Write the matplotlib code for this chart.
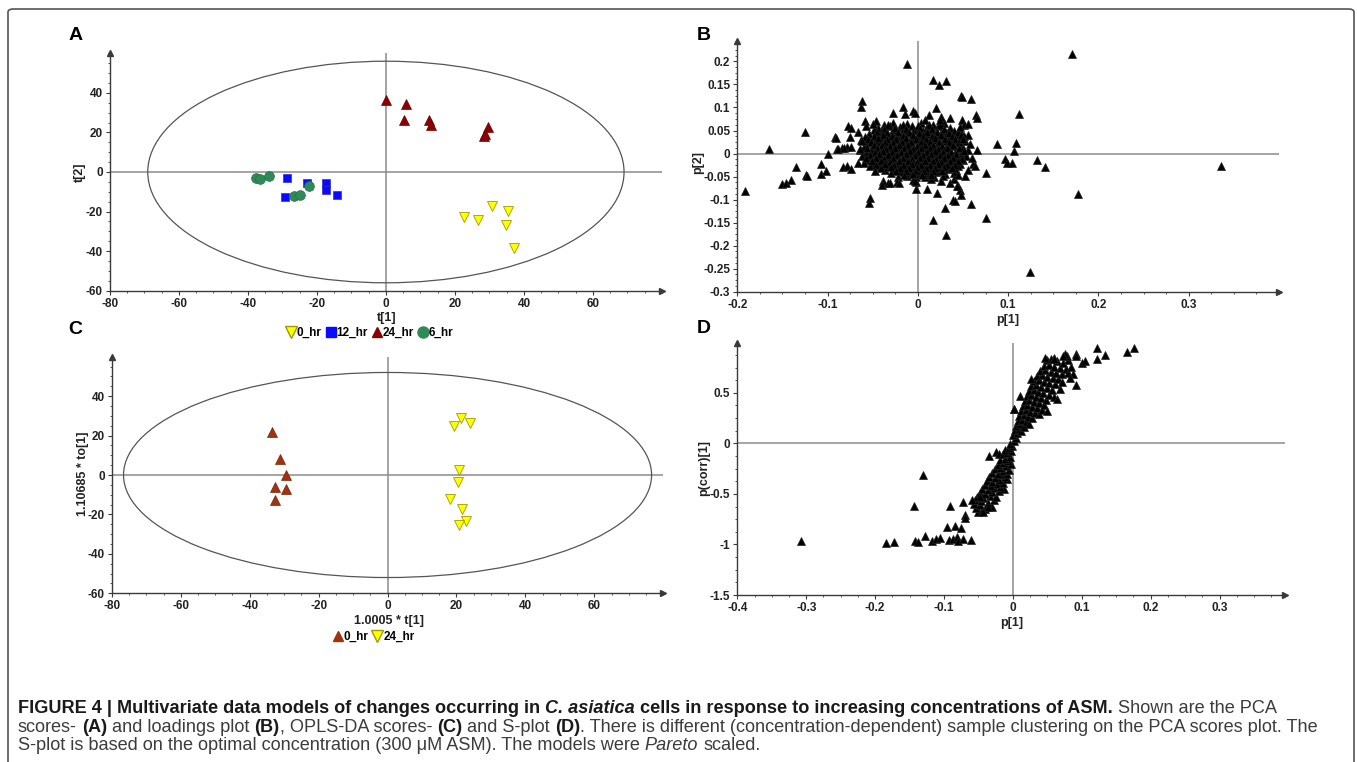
import matplotlib
matplotlib.use("Agg")
import matplotlib.pyplot as plt
import numpy as np
from matplotlib.patches import Ellipse, FancyBboxPatch
from matplotlib.lines import Line2D
from matplotlib.ticker import AutoMinorLocator
from matplotlib import font_manager

# ---- data ----
# (A) PCA scores
pca_0hr_t1 = [22.5, 26.7, 30.6, 35.5, 34.7, 37.1]
pca_0hr_t2 = [-22.8, -24.4, -17.4, -19.9, -27.0, -38.2]
pca_12hr_t1 = [-28.6, -29.3, -22.8, -17.5, -17.4, -14.1]
pca_12hr_t2 = [-2.8, -12.7, -5.6, -5.6, -9.3, -11.5]
pca_24hr_t1 = [0.1, 5.8, 5.1, 12.4, 13.1, 29.6, 28.4, 28.7]
pca_24hr_t2 = [36.5, 34.6, 26.2, 26.4, 23.9, 22.9, 18.4, 19.4]
pca_6hr_t1 = [-37.5, -36.5, -33.8, -26.7, -24.9, -22.3]
pca_6hr_t2 = [-2.8, -3.3, -1.8, -12.2, -11.5, -7.0]

# (C) OPLS-DA scores
opls_0hr_t1 = [-33.6, -31.2, -29.5, -32.7, -29.5, -32.7]
opls_0hr_to1 = [22.0, 8.1, 0.2, -5.9, -6.9, -12.6]
opls_24hr_t1 = [21.3, 19.3, 24.0, 20.7, 20.3, 18.0, 21.6, 22.8, 20.7]
opls_24hr_to1 = [28.7, 24.9, 26.2, 2.7, -3.7, -12.4, -17.1, -23.4, -25.5]

# (B) loadings p[1], p[2]
loadings_core = [
    (-0.038, 0.063), (-0.027, 0.067), (-0.012, 0.064), (0.004, 0.066), (0.017, 0.062),
    (0.029, 0.067), (-0.044, 0.056), (-0.031, 0.059), (-0.020, 0.057),
    (-0.006, 0.060), (0.010, 0.057), (0.022, 0.059), (0.036, 0.056),
    (-0.049, 0.051), (-0.040, 0.048), (-0.028, 0.051), (-0.016, 0.049), (-0.004, 0.052), (0.006, 0.049),
    (0.015, 0.051), (0.027, 0.048), (0.040, 0.050), (0.048, 0.047), (-0.054, 0.043), (-0.045, 0.041),
    (-0.034, 0.044), (-0.024, 0.042), (-0.011, 0.044), (0.001, 0.041), (0.011, 0.043), (0.020, 0.040),
    (0.032, 0.044), (0.043, 0.042), (0.056, 0.040), (-0.059, 0.036), (-0.050, 0.034), (-0.038, 0.037),
    (-0.029, 0.035), (-0.019, 0.037), (-0.008, 0.034), (0.004, 0.036), (0.014, 0.035), (0.024, 0.037),
    (0.035, 0.034), (0.047, 0.036), (-0.063, 0.029), (-0.047, 0.028), (-0.041, 0.030), (-0.032, 0.027),
    (-0.022, 0.030), (-0.013, 0.028), (-0.002, 0.029), (0.008, 0.027), (0.018, 0.030), (0.028, 0.028),
    (0.039, 0.030), (0.052, 0.027), (-0.056, 0.022), (-0.044, 0.021), (-0.036, 0.023), (-0.026, 0.020),
    (-0.016, 0.022), (-0.006, 0.021), (0.003, 0.023), (0.012, 0.020), (0.022, 0.022), (0.033, 0.021),
    (0.044, 0.023), (-0.060, 0.015), (-0.050, 0.014), (-0.039, 0.016), (-0.030, 0.013), (-0.020, 0.015),
    (-0.010, 0.014), (0.000, 0.016), (0.009, 0.013), (0.017, 0.015), (0.027, 0.014), (0.038, 0.016),
    (0.050, 0.013), (-0.064, 0.008), (-0.052, 0.007), (-0.043, 0.009), (-0.034, 0.006), (-0.024, 0.008),
    (-0.014, 0.007), (-0.004, 0.009), (0.005, 0.006), (0.014, 0.008), (0.023, 0.007), (0.032, 0.009),
    (0.042, 0.006), (0.055, 0.008), (-0.058, 0.001), (-0.047, 0.000), (-0.038, 0.002), (-0.028, -0.001),
    (-0.018, 0.001), (-0.008, 0.000), (0.002, 0.002), (0.011, -0.001), (0.020, 0.001), (0.029, 0.000),
    (0.037, 0.002), (0.048, -0.001), (-0.062, -0.006), (-0.051, -0.007), (-0.041, -0.005), (-0.032, -0.008),
    (-0.022, -0.006), (-0.012, -0.007), (-0.002, -0.005), (0.007, -0.008), (0.016, -0.006), (0.025, -0.007),
    (0.034, -0.005), (0.045, -0.008), (0.053, -0.006), (-0.055, -0.013), (-0.045, -0.014), (-0.036, -0.012),
    (-0.026, -0.015), (-0.016, -0.013), (-0.006, -0.014), (0.004, -0.012), (0.013, -0.015), (0.022, -0.013),
    (0.031, -0.014), (0.041, -0.012), (0.050, -0.015), (-0.060, -0.020), (-0.049, -0.021), (-0.039, -0.019),
    (-0.029, -0.022), (-0.019, -0.020), (-0.009, -0.021), (0.001, -0.019), (0.010, -0.022), (0.019, -0.020),
    (0.028, -0.021), (0.038, -0.019), (0.047, -0.022), (-0.053, -0.027), (-0.042, -0.028), (-0.033, -0.026),
    (-0.023, -0.029), (-0.013, -0.027), (-0.003, -0.028), (0.006, -0.026), (0.016, -0.029), (0.025, -0.027),
    (0.035, -0.028), (0.044, -0.026), (-0.036, -0.035), (-0.026, -0.033), (-0.016, -0.036),
    (-0.006, -0.034), (0.003, -0.035), (0.013, -0.033), (0.023, -0.036), (0.033, -0.034), (0.042, -0.035),
    (-0.030, -0.043), (-0.019, -0.041), (-0.009, -0.044), (0.000, -0.042), (0.010, -0.043),
    (0.020, -0.041), (0.030, -0.044), (0.040, -0.042), (-0.022, -0.051),
    (-0.012, -0.049), (-0.002, -0.052), (0.008, -0.050), (0.018, -0.051), (0.028, -0.049),
    (-0.005, -0.058), (0.014, -0.056), (0.026, -0.059),
]
loadings_core_fill = [
    (-0.033, 0.061), (-0.016, 0.062), (0.000, 0.060), (0.012, 0.062), (0.025, 0.061),
    (-0.037, 0.053), (-0.025, 0.055), (-0.013, 0.054), (0.002, 0.055), (0.016, 0.053),
    (0.029, 0.054), (-0.045, 0.047), (-0.034, 0.045), (-0.022, 0.046),
    (-0.010, 0.047), (0.001, 0.045), (0.010, 0.046), (0.021, 0.047), (0.034, 0.045), (0.044, 0.046),
    (-0.049, 0.039), (-0.039, 0.040), (-0.029, 0.038), (-0.017, 0.039), (-0.005, 0.040), (0.006, 0.038),
    (0.016, 0.039), (0.026, 0.040), (0.038, 0.038), (0.051, 0.039), (-0.055, 0.032), (-0.044, 0.033),
    (-0.034, 0.031), (-0.024, 0.032), (-0.013, 0.033), (-0.002, 0.031), (0.009, 0.032), (0.019, 0.033),
    (0.030, 0.031), (0.041, 0.032), (-0.052, 0.025), (-0.036, 0.026), (-0.027, 0.024), (-0.018, 0.025),
    (-0.008, 0.026), (0.003, 0.024), (0.013, 0.025), (0.023, 0.026), (0.034, 0.024), (0.046, 0.025),
    (-0.049, 0.018), (-0.040, 0.019), (-0.031, 0.017), (-0.021, 0.018), (-0.011, 0.019), (-0.001, 0.017),
    (0.008, 0.018), (0.017, 0.019), (0.027, 0.017), (0.039, 0.018), (-0.056, 0.011), (-0.045, 0.012),
    (-0.035, 0.010), (-0.025, 0.011), (-0.015, 0.012), (-0.005, 0.010), (0.004, 0.011), (0.013, 0.012),
    (0.022, 0.010), (0.032, 0.011), (0.046, 0.012), (-0.048, 0.004), (-0.039, 0.005), (-0.029, 0.003),
    (-0.019, 0.004), (-0.009, 0.005), (0.000, 0.003), (0.010, 0.004), (0.019, 0.005), (0.028, 0.003),
    (0.037, 0.004), (0.051, 0.005), (-0.053, -0.003), (-0.043, -0.002), (-0.033, -0.004), (-0.023, -0.003),
    (-0.013, -0.002), (-0.003, -0.004), (0.006, -0.003), (0.015, -0.002), (0.024, -0.004), (0.033, -0.003),
    (0.042, -0.002), (-0.057, -0.010), (-0.046, -0.009), (-0.037, -0.011), (-0.027, -0.010), (-0.017, -0.009),
    (-0.007, -0.011), (0.002, -0.010), (0.011, -0.009), (0.020, -0.011), (0.029, -0.010), (0.039, -0.009),
    (0.049, -0.011), (-0.051, -0.017), (-0.041, -0.016), (-0.031, -0.018), (-0.021, -0.017), (-0.011, -0.016),
    (-0.001, -0.018), (0.008, -0.017), (0.017, -0.016), (0.026, -0.018), (0.036, -0.017), (0.045, -0.016),
    (-0.046, -0.024), (-0.036, -0.023), (-0.026, -0.025), (-0.016, -0.024), (-0.006, -0.023), (0.004, -0.025),
    (0.013, -0.024), (0.022, -0.023), (0.032, -0.025), (0.041, -0.024), (-0.041, -0.031), (-0.030, -0.030),
    (-0.020, -0.032), (-0.010, -0.031), (-0.001, -0.030), (0.009, -0.032), (0.019, -0.031), (0.029, -0.030),
    (0.038, -0.032), (-0.024, -0.039), (-0.013, -0.037), (-0.003, -0.038), (0.007, -0.039),
    (0.017, -0.037), (0.027, -0.038), (-0.015, -0.047), (-0.005, -0.045),
    (0.005, -0.046), (0.015, -0.047),
]
loadings_outer = [
    (0.171, 0.216), (-0.012, 0.194), (0.336, -0.028), (0.124, -0.258), (0.177, -0.088), (-0.192, -0.081),
    (-0.165, 0.009), (-0.125, 0.046), (-0.135, -0.030), (-0.124, -0.046), (-0.150, -0.066), (-0.146, -0.064),
    (-0.141, -0.058), (-0.107, -0.022), (-0.107, -0.044), (-0.102, -0.038), (-0.100, -0.001), (-0.092, 0.036),
    (-0.090, 0.009), (-0.084, 0.012), (-0.079, 0.014), (-0.077, 0.059), (-0.074, 0.056), (-0.075, 0.036),
    (-0.074, 0.014), (-0.083, -0.029), (-0.078, -0.027), (-0.074, -0.034), (-0.062, 0.115), (-0.059, 0.071),
    (-0.058, 0.060), (-0.063, 0.101), (-0.053, -0.097), (-0.054, -0.107), (-0.046, 0.071), (-0.039, -0.059),
    (-0.040, -0.069), (-0.033, -0.064), (-0.023, -0.062), (-0.028, 0.089), (-0.017, 0.100), (-0.014, 0.085),
    (-0.005, 0.093), (-0.003, 0.088), (-0.002, -0.062), (-0.002, -0.077), (0.012, 0.084), (0.008, 0.073),
    (0.017, 0.160), (0.023, 0.149), (0.031, 0.157), (0.020, 0.098), (0.026, 0.080), (0.025, 0.073),
    (0.036, 0.078), (0.048, 0.124), (0.049, 0.122), (0.059, 0.119), (0.049, 0.073), (0.051, 0.062),
    (0.055, 0.064), (0.064, 0.084), (0.065, 0.078), (0.065, 0.007), (0.048, 0.040), (0.050, 0.031),
    (0.061, -0.022), (0.063, -0.027), (0.059, -0.109), (0.075, -0.042), (0.076, -0.139), (0.017, -0.145),
    (0.030, -0.119), (0.031, -0.177), (0.039, -0.101), (0.047, -0.080), (0.048, -0.090), (0.045, -0.071),
    (0.088, 0.020), (0.096, -0.011), (0.099, -0.020), (0.104, -0.020), (0.107, 0.005), (0.109, 0.023),
    (0.112, 0.085), (0.132, -0.013), (0.141, -0.029), (-0.091, 0.033), (-0.089, 0.010), (-0.082, 0.011),
    (-0.066, -0.021), (-0.062, 0.028), (-0.064, 0.009), (-0.031, -0.063), (-0.021, -0.065), (-0.003, -0.059),
    (0.010, -0.078), (0.021, -0.086), (0.041, -0.103), (0.036, -0.063), (0.043, -0.070), (-0.123, -0.049),
    (0.055, -0.035), (0.058, 0.020), (0.060, -0.010), (0.040, -0.055), (0.052, -0.048),
    (-0.050, 0.064), (-0.066, 0.046), (0.047, 0.058), (-0.047, -0.038), (0.045, -0.046),
]

# (D) S-plot p[1], p(corr)[1]
splot_pts = [
    (-0.307, -0.966), (-0.184, -0.986), (-0.172, -0.973), (-0.144, -0.617), (-0.131, -0.314),
    (-0.142, -0.963), (-0.137, -0.976), (-0.127, -0.913), (-0.118, -0.963), (-0.111, -0.950),
    (-0.106, -0.940), (-0.096, -0.828), (-0.091, -0.617), (-0.084, -0.815), (-0.076, -0.841),
    (-0.093, -0.960), (-0.087, -0.945), (-0.081, -0.930), (-0.079, -0.965), (-0.072, -0.950),
    (-0.061, -0.955), (-0.072, -0.584), (-0.069, -0.709), (-0.070, -0.742),
    (-0.050, -0.680), (-0.045, -0.660), (-0.053, -0.640), (-0.040, -0.645), (-0.057, -0.600),
    (-0.048, -0.610), (-0.038, -0.620), (-0.030, -0.630), (-0.055, -0.560), (-0.046, -0.575),
    (-0.036, -0.585), (-0.028, -0.560), (-0.052, -0.530), (-0.043, -0.540), (-0.033, -0.520),
    (-0.024, -0.535), (-0.048, -0.490), (-0.040, -0.500), (-0.030, -0.480), (-0.020, -0.470),
    (-0.013, -0.450), (-0.045, -0.450), (-0.036, -0.460), (-0.027, -0.440), (-0.018, -0.430),
    (-0.041, -0.410), (-0.032, -0.420), (-0.023, -0.400), (-0.014, -0.390), (-0.008, -0.350),
    (-0.038, -0.370), (-0.030, -0.380), (-0.020, -0.360), (-0.012, -0.330), (-0.034, -0.330),
    (-0.026, -0.340), (-0.017, -0.310), (-0.008, -0.300), (-0.030, -0.290), (-0.022, -0.300),
    (-0.014, -0.270), (-0.006, -0.260), (-0.026, -0.250), (-0.018, -0.240), (-0.010, -0.220),
    (-0.003, -0.200), (-0.022, -0.210), (-0.015, -0.190), (-0.007, -0.170), (-0.019, -0.160),
    (-0.012, -0.150), (-0.004, -0.130), (-0.034, -0.123), (-0.024, -0.090), (-0.020, -0.110),
    (-0.015, -0.110), (-0.009, -0.100), (-0.002, -0.080), (-0.012, -0.070), (-0.006, -0.050),
    (-0.001, -0.030), (-0.004, -0.010), (-0.060, -0.560), (-0.047, -0.528), (-0.036, -0.627),
    (-0.044, -0.676),
    (0.001, 0.020), (0.004, 0.050), (0.000, 0.080), (0.006, 0.100), (0.003, 0.130), (0.009, 0.140),
    (0.012, 0.120), (0.005, 0.170), (0.011, 0.190), (0.016, 0.160), (0.007, 0.220), (0.013, 0.230),
    (0.019, 0.210), (0.024, 0.190), (0.009, 0.270), (0.016, 0.280), (0.022, 0.260), (0.028, 0.250),
    (0.012, 0.320), (0.019, 0.330), (0.025, 0.310), (0.032, 0.300), (0.038, 0.290), (0.002, 0.340),
    (0.014, 0.370), (0.021, 0.380), (0.028, 0.360), (0.035, 0.350), (0.042, 0.330), (0.017, 0.420),
    (0.024, 0.430), (0.031, 0.410), (0.038, 0.400), (0.045, 0.380), (0.050, 0.320), (0.020, 0.470),
    (0.027, 0.480), (0.034, 0.460), (0.041, 0.450), (0.048, 0.430), (0.023, 0.520), (0.030, 0.530),
    (0.037, 0.510), (0.044, 0.500), (0.052, 0.480), (0.060, 0.460), (0.027, 0.570), (0.034, 0.580),
    (0.041, 0.560), (0.049, 0.550), (0.057, 0.530), (0.069, 0.540), (0.031, 0.620), (0.038, 0.630),
    (0.045, 0.610), (0.053, 0.600), (0.061, 0.590), (0.035, 0.670), (0.042, 0.680), (0.050, 0.660),
    (0.058, 0.650), (0.066, 0.640), (0.040, 0.720), (0.047, 0.730), (0.055, 0.710), (0.063, 0.700),
    (0.071, 0.690), (0.045, 0.770), (0.052, 0.780), (0.060, 0.760), (0.068, 0.750), (0.077, 0.740),
    (0.049, 0.820), (0.056, 0.830), (0.064, 0.810), (0.073, 0.800), (0.080, 0.820), (0.078, 0.860),
    (0.060, 0.840), (0.046, 0.849), (0.059, 0.839), (0.076, 0.882), (0.073, 0.862), (0.092, 0.882),
    (0.091, 0.866), (0.101, 0.800), (0.105, 0.816), (0.122, 0.839), (0.134, 0.879), (0.122, 0.948),
    (0.165, 0.899), (0.176, 0.948), (0.088, 0.691), (0.092, 0.576), (0.071, 0.609), (0.026, 0.636),
    (0.011, 0.470), (0.0015, 0.340), (0.064, 0.440), (0.080, 0.700), (0.085, 0.760), (0.083, 0.650),
]

W, H = 1357, 762
fig = plt.figure(figsize=(W / 100, H / 100), dpi=100)
plt.rcParams['font.family'] = ['Liberation Sans', 'DejaVu Sans']

installed = {f.name for f in font_manager.fontManager.ttflist}
cap_font = 'Liberation Sans Narrow' if 'Liberation Sans Narrow' in installed else 'Liberation Sans'

AXC = '#3a3a3a'


def px(x, y):
    return x / W, 1 - y / H


def make_axes(l, t, r, b):
    return fig.add_axes([l / W, 1 - b / H, (r - l) / W, (b - t) / H])


def style(ax, xlim, ylim, xticks, yticks):
    ax.set_xlim(xlim)
    ax.set_ylim(ylim)
    ax.spines['top'].set_visible(False)
    ax.spines['right'].set_visible(False)
    for s in ['left', 'bottom']:
        ax.spines[s].set_color(AXC)
        ax.spines[s].set_linewidth(1.0)
    ax.set_xticks(xticks)
    ax.set_xticklabels([f'{v:g}' for v in xticks], fontweight='bold', fontsize=8.5, color='#222')
    ax.set_yticks(yticks)
    ax.set_yticklabels([f'{v:g}' for v in yticks], fontweight='bold', fontsize=8.5, color='#222')
    ax.xaxis.set_minor_locator(AutoMinorLocator(4))
    ax.yaxis.set_minor_locator(AutoMinorLocator(4))
    ax.tick_params(which='major', length=3, width=0.8, color=AXC, pad=2)
    ax.tick_params(which='minor', length=1.5, width=0.6, color=AXC)
    ax.axhline(0, color='#8c8c8c', lw=1.1, zorder=1)
    ax.axvline(0, color='#8c8c8c', lw=1.1, zorder=1)
    # arrow heads at axis ends
    ax.plot([1], [0], marker='>', ms=4, color=AXC, transform=ax.transAxes, clip_on=False)
    ax.plot([0], [1], marker='^', ms=4, color=AXC, transform=ax.transAxes, clip_on=False)


# ---- A: PCA scores ----
axA = make_axes(109.8, 53.3, 662, 290.7)
style(axA, (-80, 80), (-60, 60), [-80, -60, -40, -20, 0, 20, 40, 60], [-60, -40, -20, 0, 20, 40])
axA.add_patch(Ellipse((0, 0), 2 * 69, 2 * 56, fill=False, ec='#555555', lw=0.9))
axA.plot(pca_0hr_t1, pca_0hr_t2, 'v', ms=7, color='#ffff00', mec='#a09a00', mew=0.6, ls='none')
axA.plot(pca_12hr_t1, pca_12hr_t2, 's', ms=6, color='#0a0aff', mec='#3030c0', mew=0.5, ls='none')
axA.plot(pca_24hr_t1, pca_24hr_t2, '^', ms=7, color='#8b0000', mec='#700000', mew=0.5, ls='none')
axA.plot(pca_6hr_t1, pca_6hr_t2, 'o', ms=7, color='#2e8b57', mec='#257048', mew=0.5, ls='none')

# ---- B: loadings ----
axB = make_axes(737.3, 40.7, 1279, 291.7)
style(axB, (-0.2, 0.4), (-0.3, 0.245), [-0.2, -0.1, 0, 0.1, 0.2, 0.3],
      [-0.3, -0.25, -0.2, -0.15, -0.1, -0.05, 0, 0.05, 0.1, 0.15, 0.2])
bpts = np.array(loadings_core + loadings_core_fill + loadings_outer)
axB.plot(bpts[:, 0], bpts[:, 1], '^', ms=5.5, color='black', mec='#222', mew=0.5, ls='none')

# ---- C: OPLS-DA scores ----
axC = make_axes(111.8, 356.7, 663.3, 593.3)
style(axC, (-80, 80), (-60, 60), [-80, -60, -40, -20, 0, 20, 40, 60], [-60, -40, -20, 0, 20, 40])
axC.add_patch(Ellipse((0, 0), 2 * 76.6, 2 * 52, fill=False, ec='#555555', lw=0.9))
axC.plot(opls_0hr_t1, opls_0hr_to1, '^', ms=7, color='#a0330f', mec='#7a2508', mew=0.5, ls='none')
axC.plot(opls_24hr_t1, opls_24hr_to1, 'v', ms=7, color='#ffff00', mec='#a09a00', mew=0.6, ls='none')

# ---- D: S-plot ----
axD = make_axes(737.3, 343.3, 1285, 595)
style(axD, (-0.4, 0.395), (-1.5, 0.99), [-0.4, -0.3, -0.2, -0.1, 0, 0.1, 0.2, 0.3], [-1.5, -1, -0.5, 0, 0.5])
dpts = np.array(splot_pts)
axD.plot(dpts[:, 0], dpts[:, 1], '^', ms=5.5, color='black', mec='#222', mew=0.5, ls='none')

# ---- axis labels ----
lab = dict(fontsize=9, fontweight='bold', color='#222', ha='center', va='center')
fig.text(*px(386.5, 318), 't[1]', **lab)
fig.text(*px(80, 172), 't[2]', rotation=90, **lab)
fig.text(*px(1008, 320), 'p[1]', **lab)
fig.text(*px(698, 162), 'p[2]', rotation=90, **lab)
fig.text(*px(388.6, 621), '1.0005 * t[1]', **lab)
fig.text(*px(83, 474), '1.10685 * to[1]', rotation=90, **lab)
fig.text(*px(1012, 623), 'p[1]', **lab)
fig.text(*px(704, 468), 'p(corr)[1]', rotation=90, **lab)

# panel letters
for letter, (x, y) in zip('ABCD', [(76, 36), (704, 36), (75, 330), (704, 328)]):
    fig.text(*px(x, y), letter, fontsize=14, fontweight='bold', ha='center', va='center', color='black')

# legends
leg_prop = dict(weight='bold', size=8.5)
hA = [Line2D([], [], marker='v', ls='none', ms=8, color='#ffff00', mec='#a09a00', label='0_hr'),
      Line2D([], [], marker='s', ls='none', ms=7, color='#0a0aff', label='12_hr'),
      Line2D([], [], marker='^', ls='none', ms=7, color='#8b0000', label='24_hr'),
      Line2D([], [], marker='o', ls='none', ms=8, color='#2e8b57', label='6_hr')]
fig.legend(handles=hA, loc='center', bbox_to_anchor=px(370, 333), ncol=4, frameon=False, prop=leg_prop,
           handlelength=0.7, handletextpad=0.15, columnspacing=0.4, borderpad=0)
hC = [Line2D([], [], marker='^', ls='none', ms=7, color='#a0330f', label='0_hr'),
      Line2D([], [], marker='v', ls='none', ms=8, color='#ffff00', mec='#a09a00', label='24_hr')]
fig.legend(handles=hC, loc='center', bbox_to_anchor=px(374, 637), ncol=2, frameon=False, prop=leg_prop,
           handlelength=0.7, handletextpad=0.15, columnspacing=0.4, borderpad=0)

# border round the figure
fig.patches.append(FancyBboxPatch(px(8, 770), (1354 - 8) / W, (770 - 9) / H,
                                  boxstyle='round,pad=0,rounding_size=0.004', transform=fig.transFigure,
                                  fill=False, ec='#555555', lw=1.2))

# ---- caption ----
cap_lines = [
    [("FIGURE 4 | Multivariate data models of changes occurring in", 'bold', 'normal'),
     (" C. asiatica", 'bold', 'italic'),
     (" cells in response to increasing concentrations of ASM.", 'bold', 'normal'),
     (" Shown are the PCA", 'normal', 'normal')],
    [("scores-", 'normal', 'normal'), (" (A)", 'bold', 'normal'), (" and loadings plot", 'normal', 'normal'),
     (" (B)", 'bold', 'normal'), (", OPLS-DA scores-", 'normal', 'normal'), (" (C)", 'bold', 'normal'),
     (" and S-plot", 'normal', 'normal'), (" (D)", 'bold', 'normal'),
     (". There is different (concentration-dependent) sample clustering on the PCA scores plot. The", 'normal', 'normal')],
    [("S-plot is based on the optimal concentration (300 \u03bcM ASM). The models were", 'normal', 'normal'),
     (" Pareto", 'normal', 'italic'), (" scaled.", 'normal', 'normal')],
]
cap_base = [713, 731.5, 749.5]
renderer = fig.canvas.get_renderer()


def text_w(s, size, weight, style_):
    t = fig.text(0, 0, s, fontsize=size, fontweight=weight, fontstyle=style_, family=cap_font)
    w = t.get_window_extent(renderer).width
    t.remove()
    return w


def line_w(segs, size):
    w = 0
    for s, wt, st in segs:
        if s.startswith(' '):
            w += text_w('x x', size, wt, st) - text_w('xx', size, wt, st)
        w += text_w(s.strip(), size, wt, st)
    return w


cap_size = 10 * (1327 - 18) / line_w(cap_lines[1], 10)
for segs, yb in zip(cap_lines, cap_base):
    x = 18
    for s, wt, st in segs:
        if s.startswith(' '):
            x += text_w('x x', cap_size, wt, st) - text_w('xx', cap_size, wt, st)
        col = '#1a1a1a' if wt == 'bold' else '#3c3c3c'
        t = fig.text(x / W, 1 - yb / H, s.strip(), fontsize=cap_size, fontweight=wt, fontstyle=st,
                     family=cap_font, color=col, va='baseline', ha='left')
        x = t.get_window_extent(renderer).x1

fig.savefig('out.png', dpi=100)
